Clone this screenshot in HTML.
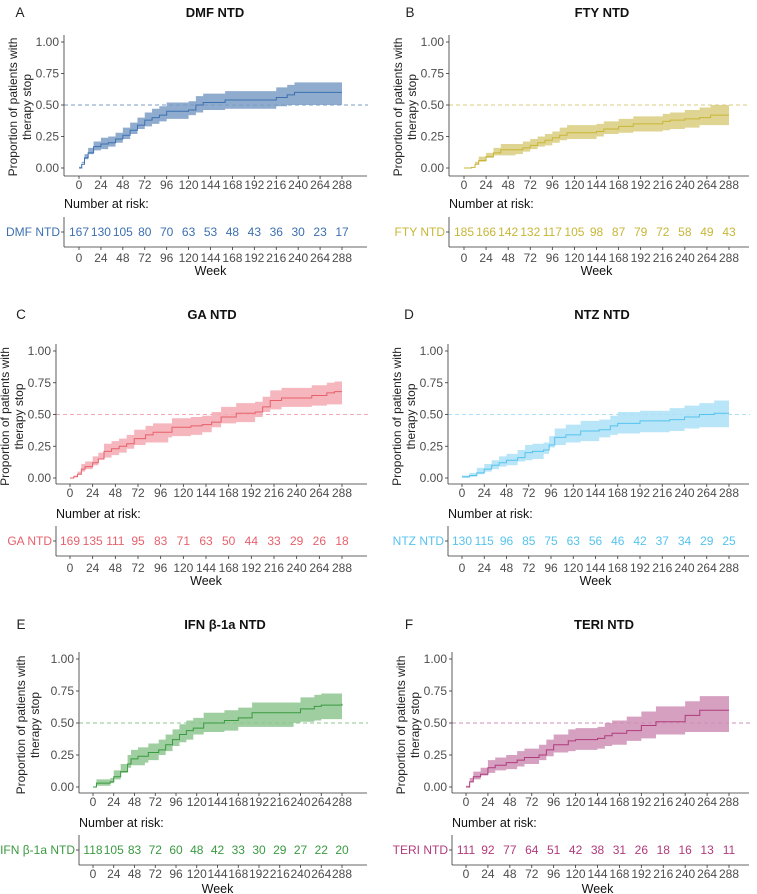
<!DOCTYPE html>
<html><head><meta charset="utf-8"><style>
body{margin:0;background:#fff;}
svg{display:block;font-family:"Liberation Sans",Arial,sans-serif;}
</style></head><body>
<svg id="fig" width="757" height="894" viewBox="0 0 757 894"></svg>
<script>
const weekTicks=[0,24,48,72,96,120,144,168,192,216,240,264,288];
const yTicks=[0,0.25,0.5,0.75,1];
const yTickLabels=["0.00","0.25","0.50","0.75","1.00"];

const dmfT=[0,3,6,10,16,24,32,40,48,56,64,72,80,88,96,120,128,136,160,216,228,236,288];
const dmfEst=[0,.03,.08,.12,.17,.19,.20,.23,.26,.30,.34,.38,.40,.42,.45,.46,.50,.52,.54,.56,.58,.60,.60];
const dmfLo=[0,.01,.04,.07,.11,.14,.15,.17,.20,.23,.27,.31,.33,.35,.37,.39,.42,.44,.46,.47,.49,.50,.50];
const dmfHi=[0,.05,.11,.16,.21,.24,.25,.28,.32,.36,.40,.44,.47,.49,.52,.53,.57,.59,.61,.64,.66,.68,.68];
const dmfRisk=[167,130,105,80,70,63,53,48,43,36,30,23,17];

const ftyT=[0,8,12,16,24,32,40,56,64,72,80,88,96,104,112,144,152,168,184,216,224,240,256,268,288];
const ftyEst=[0,.005,.03,.06,.09,.12,.145,.145,.16,.18,.20,.22,.24,.26,.28,.29,.31,.33,.35,.37,.38,.39,.40,.42,.42];
const ftyLo=[0,0,.01,.03,.05,.08,.10,.10,.11,.13,.15,.17,.18,.20,.22,.23,.25,.27,.28,.29,.30,.31,.32,.34,.34];
const ftyHi=[0,.01,.05,.09,.12,.16,.19,.19,.21,.23,.25,.27,.29,.32,.34,.35,.37,.39,.41,.43,.44,.46,.48,.50,.50];
const ftyRisk=[185,166,142,132,117,105,98,87,79,72,58,49,43];

const gaT=[0,4,8,12,16,24,30,36,44,52,60,68,80,88,104,108,128,140,150,160,176,196,204,212,224,256,272,280,288];
const gaEst=[0,.01,.03,.07,.09,.12,.15,.21,.23,.25,.27,.31,.34,.36,.36,.40,.41,.42,.44,.48,.51,.52,.56,.61,.63,.65,.67,.68,.68];
const gaLo=[0,0,.01,.03,.05,.07,.10,.15,.16,.18,.20,.23,.26,.28,.28,.32,.33,.34,.36,.40,.43,.44,.48,.52,.54,.56,.57,.58,.58];
const gaHi=[0,.02,.05,.11,.13,.17,.20,.27,.29,.31,.34,.38,.41,.43,.43,.47,.48,.49,.52,.56,.59,.60,.64,.69,.71,.73,.75,.76,.76];
const gaRisk=[169,135,111,95,83,71,63,50,44,33,29,26,18];

const ntzT=[0,8,16,24,32,40,48,60,68,76,88,94,100,112,128,148,160,168,192,224,240,256,272,288];
const ntzEst=[.01,.02,.04,.07,.10,.12,.14,.16,.20,.21,.22,.26,.32,.34,.37,.38,.41,.43,.45,.46,.48,.50,.51,.51];
const ntzLo=[0,0,.01,.03,.05,.07,.09,.10,.13,.14,.15,.19,.24,.26,.28,.29,.32,.34,.35,.36,.37,.39,.40,.40];
const ntzHi=[.02,.04,.08,.11,.14,.17,.19,.22,.26,.27,.28,.33,.39,.42,.45,.46,.49,.52,.53,.55,.57,.59,.61,.61];
const ntzRisk=[130,115,96,85,75,63,56,46,42,37,34,29,25];

const ifnT=[0,4,20,24,32,40,44,52,60,64,76,84,92,100,108,116,128,152,168,184,232,240,256,264,288];
const ifnEst=[0,.03,.04,.08,.12,.18,.22,.24,.24,.27,.29,.33,.37,.41,.44,.46,.50,.52,.54,.58,.58,.61,.63,.64,.65];
const ifnLo=[0,0,.01,.03,.06,.11,.15,.17,.17,.19,.21,.25,.28,.32,.35,.37,.41,.43,.44,.47,.47,.50,.51,.52,.53];
const ifnHi=[0,.06,.07,.13,.18,.25,.29,.31,.31,.34,.37,.41,.45,.49,.52,.54,.58,.60,.62,.66,.66,.70,.72,.73,.74];
const ifnRisk=[118,105,83,72,60,48,42,33,30,29,27,22,20];

const teriT=[0,4,8,16,24,32,44,56,64,80,88,96,112,120,144,152,160,176,192,208,240,256,288];
const teriEst=[0,.04,.08,.10,.15,.17,.19,.21,.23,.25,.29,.33,.36,.37,.38,.40,.42,.44,.48,.51,.56,.60,.60];
const teriLo=[0,.01,.04,.06,.09,.11,.13,.14,.16,.18,.21,.24,.27,.28,.29,.30,.32,.33,.36,.38,.41,.43,.43];
const teriHi=[0,.07,.12,.15,.21,.23,.25,.28,.30,.33,.37,.41,.45,.46,.47,.50,.52,.55,.59,.63,.67,.71,.71];
const teriRisk=[111,92,77,64,51,42,38,31,26,18,16,13,11];

const NS="http://www.w3.org/2000/svg";
const svg=document.getElementById('fig');
function mk(tag,attrs,parent,txt){const e=document.createElementNS(NS,tag);for(const k in attrs)e.setAttribute(k,attrs[k]);if(txt!==undefined)e.textContent=txt;(parent||svg).appendChild(e);return e;}

const panels=[
 {key:'dmf',letter:'A',title:'DMF NTD',lbl:'DMF NTD',t:dmfT,est:dmfEst,lo:dmfLo,hi:dmfHi,risk:dmfRisk,line:'#3c70b0',fill:'#7b9dc6',
  ax:64,x0:79,x1:342,xe:367,y1:42,y0:168,ay:176,title_y:17,letter_x:20,title_x:215,nar:208,tt:217,tb:247,tick2:258,week:271,yt:[-51,-37]},
 {key:'fty',letter:'B',title:'FTY NTD',lbl:'FTY NTD',t:ftyT,est:ftyEst,lo:ftyLo,hi:ftyHi,risk:ftyRisk,line:'#c8b636',fill:'#d9cd7e',
  ax:449,x0:464,x1:729,xe:749,y1:42,y0:168,ay:176,title_y:17,letter_x:410,title_x:602,nar:208,tt:217,tb:247,tick2:258,week:271,yt:[-51,-37]},
 {key:'ga',letter:'C',title:'GA NTD',lbl:'GA NTD',t:gaT,est:gaEst,lo:gaLo,hi:gaHi,risk:gaRisk,line:'#e8606c',fill:'#f3a9b1',
  ax:56,x0:70,x1:342,xe:367,y1:351,y0:478,ay:484,title_y:319,letter_x:21,title_x:212,nar:518,tt:526,tb:556,tick2:568,week:581,yt:[-51,-37]},
 {key:'ntz',letter:'D',title:'NTZ NTD',lbl:'NTZ NTD',t:ntzT,est:ntzEst,lo:ntzLo,hi:ntzHi,risk:ntzRisk,line:'#55c3ee',fill:'#ade0f7',
  ax:448,x0:462,x1:729,xe:749,y1:351,y0:478,ay:484,title_y:319,letter_x:409,title_x:602,nar:518,tt:526,tb:556,tick2:568,week:581,yt:[-51,-37]},
 {key:'ifn',letter:'E',title:'IFN β-1a NTD',lbl:'IFN β-1a NTD',t:ifnT,est:ifnEst,lo:ifnLo,hi:ifnHi,risk:ifnRisk,line:'#3a9a40',fill:'#8ec68f',
  ax:79,x0:93,x1:342,xe:367,y1:659,y0:787,ay:793,title_y:629,letter_x:21,title_x:225,nar:827,tt:835,tb:865,tick2:874,week:889,yt:[-58,-44]},
 {key:'teri',letter:'F',title:'TERI NTD',lbl:'TERI NTD',t:teriT,est:teriEst,lo:teriLo,hi:teriHi,risk:teriRisk,line:'#b03a7c',fill:'#cf8fb6',
  ax:452,x0:466,x1:729,xe:749,y1:659,y0:787,ay:793,title_y:629,letter_x:409,title_x:604,nar:827,tt:835,tb:865,tick2:874,week:889,yt:[-51,-37]}
];

function stepPath(xs,ys){let d='M'+xs[0]+','+ys[0];for(let i=1;i<xs.length;i++){d+=' H'+xs[i]+' V'+ys[i];}return d;}

panels.forEach(p=>{
  const g=mk('g',{});
  
  
  const X=t=>p.x0+(t/288)*(p.x1-p.x0);
  const Y=v=>p.y0-(v)*(p.y0-p.y1);
  const grey='#4d4d4d';
  const lt=mk('text',{x:p.letter_x,y:p.title_y,'font-size':13.5,fill:'#222','text-anchor':'middle'},g,p.letter);
  
  
  const tt=mk('text',{x:p.title_x,y:p.title_y,'font-size':13,'font-weight':'bold',fill:'#111','text-anchor':'middle'},g,p.title);
  
  
  const cy=(p.y0+p.y1)/2+2;
  ['Proportion of patients with','therapy stop'].forEach((s,i)=>{
    const x=p.ax+p.yt[i];
    const e=mk('text',{x:x,y:cy,'font-size':12,fill:'#222','text-anchor':'middle','dominant-baseline':'central',transform:'rotate(-90 '+x+' '+cy+')'},g,s);
    
    
  });
  const xs=p.t.map(X);
  let d='M'+xs[0]+','+Y(p.hi[0]);
  for(let i=1;i<xs.length;i++)d+=' H'+xs[i]+' V'+Y(p.hi[i]);
  for(let i=xs.length-1;i>0;i--)d+=' V'+Y(p.lo[i])+' H'+xs[i-1];
  d+=' V'+Y(p.lo[0])+'Z';
  const band=mk('path',{d:d,fill:p.fill,'fill-opacity':0.85},g);
  
  
  const rl=mk('line',{x1:p.ax,x2:p.xe+1,y1:Y(0.5),y2:Y(0.5),stroke:p.fill,'stroke-width':1,'stroke-dasharray':'4,3'},g);
  
  
  const ln=mk('path',{d:stepPath(xs,p.est.map(Y)),fill:'none',stroke:p.line,'stroke-width':1},g);
  
  
  const ya=mk('line',{x1:p.ax,x2:p.ax,y1:p.y1-7,y2:p.ay,stroke:'#333','stroke-width':0.8},g);
  
  
  const xa=mk('line',{x1:p.ax,x2:p.xe,y1:p.ay,y2:p.ay,stroke:'#333','stroke-width':0.8},g);
  
  
  yTicks.forEach((v,i)=>{
    mk('line',{x1:p.ax-3,x2:p.ax,y1:Y(v),y2:Y(v),stroke:'#333','stroke-width':0.8},g);
    const e=mk('text',{x:p.ax-5,y:Y(v)+4,'font-size':12,fill:grey,'text-anchor':'end'},g,yTickLabels[i]);
    
    
  });
  weekTicks.forEach(w=>{
    mk('line',{x1:X(w),x2:X(w),y1:p.ay,y2:p.ay+3,stroke:'#333','stroke-width':0.8},g);
    const e=mk('text',{x:X(w),y:p.ay+13,'font-size':12,fill:grey,'text-anchor':'middle'},g,String(w));
    
    
  });
  const nar=mk('text',{x:p.ax,y:p.nar,'font-size':12.5,fill:'#111'},g,'Number at risk:');
  
  
  mk('line',{x1:p.ax,x2:p.ax,y1:p.tt,y2:p.tb,stroke:'#333','stroke-width':0.8},g);
  mk('line',{x1:p.ax,x2:p.xe,y1:p.tb,y2:p.tb,stroke:'#333','stroke-width':0.8},g);
  const my=(p.tt+p.tb)/2;
  mk('line',{x1:p.ax-3,x2:p.ax,y1:my,y2:my,stroke:'#333','stroke-width':0.8},g);
  const rlab=mk('text',{x:p.ax-4,y:my+4,'font-size':12,fill:p.line,'text-anchor':'end'},g,p.lbl);
  
  
  weekTicks.forEach((w,i)=>{
    const e=mk('text',{x:X(w),y:my+4,'font-size':12,fill:p.line,'text-anchor':'middle'},g,String(p.risk[i]));
    
    
    mk('line',{x1:X(w),x2:X(w),y1:p.tb,y2:p.tb+3,stroke:'#333','stroke-width':0.8},g);
    const t=mk('text',{x:X(w),y:p.tick2+4,'font-size':12,fill:grey,'text-anchor':'middle'},g,String(w));
    
    
  });
  const wk=mk('text',{x:(p.x0+p.x1)/2,y:p.week+4,'font-size':12.5,fill:'#111','text-anchor':'middle'},g,'Week');
  
  
});
</script>
</body></html>
